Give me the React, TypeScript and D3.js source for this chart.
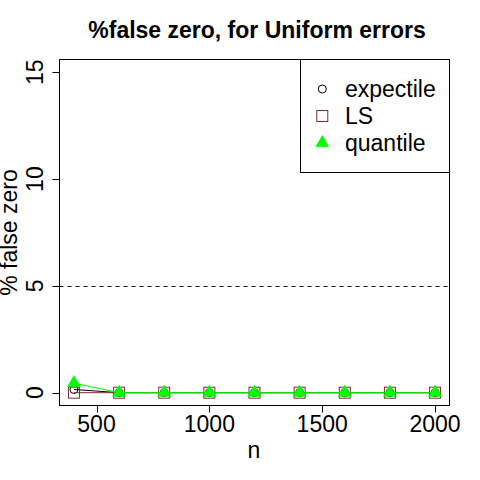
import React from "react";
import * as d3 from "d3";

const nValues = [400, 600, 800, 1000, 1200, 1400, 1600, 1800, 2000];
const expectile = [0.15, 0, 0, 0, 0, 0, 0, 0, 0];
const ls = [0, 0, 0, 0, 0, 0, 0, 0, 0];
const quantile = [0.45, 0, 0, 0, 0, 0, 0, 0, 0];
const xTicks = [500, 1000, 1500, 2000];
const yTicks = [0, 5, 10, 15];
const seriesNames = ["expectile", "LS", "quantile"];
const refLine = 5;

const W = 480, H = 480;
const left = 59.5, right = 449.5, top = 59.5, bottom = 405.5;
const FONT = "'Liberation Sans', Arial, sans-serif";
const COL_LS = "#7D2E2E";
const COL_Q = "#00FF00";

function Marker({ kind, x, y }: { kind: string; x: number; y: number }) {
  if (kind === "circle") return <circle cx={x} cy={y} r={4} fill="none" stroke="black" strokeWidth={1} />;
  if (kind === "square") return <rect x={x - 5.5} y={y - 5.5} width={11} height={11} fill="none" stroke={COL_LS} strokeWidth={1} />;
  const r = 7.6, yc = 3.8, hw = 6.6;
  return <path d={`M${x},${y - r}L${x + hw},${y + yc}L${x - hw},${y + yc}Z`} fill={COL_Q} stroke={COL_Q} strokeWidth={0.5} />;
}

export default function App() {
  const x = d3.scaleLinear().domain([336, 2064]).range([left, right]);
  const y = d3.scaleLinear().domain([-0.6, 15.6]).range([bottom, top]);
  const line = d3.line<[number, number]>().x(d => x(d[0])).y(d => y(d[1]));
  const series = [
    { vals: expectile, color: "black", kind: "circle" },
    { vals: ls, color: COL_LS, kind: "square" },
    { vals: quantile, color: COL_Q, kind: "triangle" },
  ];
  const legendRows = [89, 116, 143];
  return (
    <svg width={W} height={H} style={{ position: "absolute", left: 0, top: 0, background: "white" }} fontFamily={FONT}>
      <rect x={0} y={0} width={W} height={H} fill="white" />
      <text x={257} y={38} textAnchor="middle" fontSize={23} fontWeight="bold">%false zero, for Uniform errors</text>
      <line x1={left} x2={right} y1={Math.round(y(refLine)) + 0.5} y2={Math.round(y(refLine)) + 0.5} stroke="black" strokeDasharray="4,4" strokeWidth={1} />
      {series.map((s, i) => (
        <g key={i}>
          <path d={line(nValues.map((n, j) => [n, s.vals[j]] as [number, number])) || ""} fill="none" stroke={s.color} strokeWidth={1} />
          {nValues.map((n, j) => <Marker key={j} kind={s.kind} x={x(n)} y={y(s.vals[j])} />)}
        </g>
      ))}
      <rect x={left} y={top} width={right - left} height={bottom - top} fill="none" stroke="black" strokeWidth={1} />
      {xTicks.map(t => (
        <g key={t}>
          <line x1={Math.round(x(t)) + 0.5} x2={Math.round(x(t)) + 0.5} y1={bottom} y2={bottom + 7} stroke="black" />
          <text x={x(t)} y={432} textAnchor="middle" fontSize={23}>{t}</text>
        </g>
      ))}
      {yTicks.map(t => (
        <g key={t}>
          <line x1={left} x2={left - 7} y1={Math.round(y(t)) + 0.5} y2={Math.round(y(t)) + 0.5} stroke="black" />
          <text transform={`translate(43,${y(t)}) rotate(-90)`} textAnchor="middle" fontSize={23}>{t}</text>
        </g>
      ))}
      <text x={254} y={458} textAnchor="middle" fontSize={23}>n</text>
      <text transform={`translate(17,${(top + bottom) / 2}) rotate(-90)`} textAnchor="middle" fontSize={23}>% false zero</text>
      <rect x={300.5} y={top} width={right - 300.5} height={172.5 - top} fill="white" stroke="black" strokeWidth={1} />
      {seriesNames.map((name, i) => (
        <g key={name}>
          <Marker kind={series[i].kind} x={322.3} y={legendRows[i]} />
          <text x={345} y={legendRows[i]} dy="0.36em" fontSize={23}>{name}</text>
        </g>
      ))}
    </svg>
  );
}
